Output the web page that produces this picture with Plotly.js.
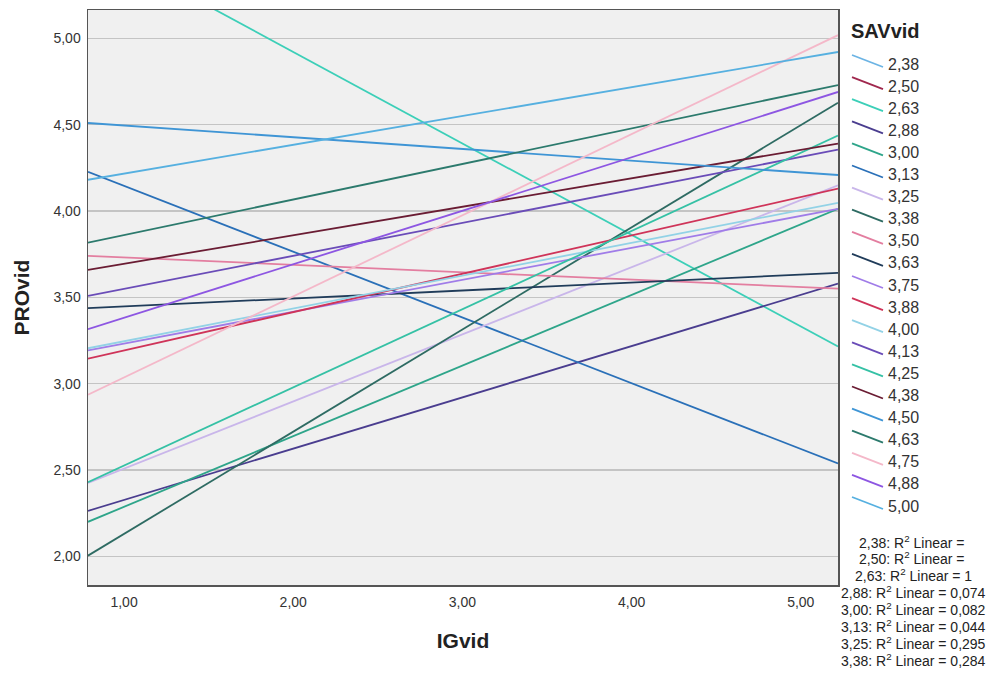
<!DOCTYPE html>
<html>
<head>
<meta charset="utf-8">
<script src="https://cdn.plot.ly/plotly-3.0.1.min.js"></script>
<style>html,body{margin:0;padding:0;background:#fff;}#chart{width:995px;height:676px;}</style>
</head>
<body>
<div id="chart"></div>
<script>
// SAVvid groups (legend order)
const groups = ["2,38","2,50","2,63","2,88","3,00","3,13","3,25","3,38","3,50","3,63","3,75","3,88","4,00","4,13","4,25","4,38","4,50","4,63","4,75","4,88","5,00"];
// Linear fit PROvid = intercept + slope * IGvid (null = no fit line)
const intercepts = [null, null, 5.982, 2.030, 1.878, 4.527, 2.119, 1.538, 3.775, 3.402, 3.047, 2.971, 3.056, 3.359, 2.073, 3.530, 4.564, 3.655, 2.566, 3.072, 4.050];
const slopes     = [null, null, -0.530, 0.297, 0.409, -0.381, 0.389, 0.592, -0.043, 0.046, 0.185, 0.222, 0.190, 0.191, 0.453, 0.165, -0.068, 0.206, 0.470, 0.310, 0.167];
const colors = ["#6cb4e4","#a0284e","#3ccfb8","#4a3d8f","#2ea58a","#2a70b8","#c9b6ea","#2e6b63","#e37ea0","#203c5a","#a07ce8","#cf3459","#92d2e6","#6a4cb8","#35c1a5","#6a1c33","#3f95d5","#2c7a6d","#f4b8c9","#8d56e2","#56b0e0"];
// R² notes shown under the legend
const r2Labels = ["2,38","2,50","2,63","2,88","3,00","3,13","3,25","3,38"];
const r2Values = ["","","1","0,074","0,082","0,044","0,295","0,284"];

const xRange = [0.787, 5.22];
const yRange = [1.834, 5.165];
const xTicks = [1, 2, 3, 4, 5];
const yTicks = [2, 2.5, 3, 3.5, 4, 4.5, 5];

const traces = groups.map((g, i) => {
  const a = intercepts[i], b = slopes[i];
  const xs = a === null ? [null] : xRange.slice();
  const ys = a === null ? [null] : xRange.map(x => a + b * x);
  return {
    type: "scatter", mode: "lines", name: g,
    x: xs, y: ys,
    line: {color: colors[i], width: 1.8},
    hoverinfo: "skip", showlegend: false
  };
});

// Layout geometry (pixels) for the hand-drawn legend
const W = 995, H = 676;
const M = {l: 88, r: 157, t: 10, b: 91};
const plotW = W - M.l - M.r, plotH = H - M.t - M.b;
const px = v => (v - M.l) / plotW;           // pixel x -> paper x
const py = v => (H - M.b - v) / plotH;       // pixel y -> paper y

const font = "Liberation Sans, Arial, sans-serif";
const shapes = [];
const annotations = [];

annotations.push({
  xref: "paper", yref: "paper", x: px(849), y: py(31),
  xanchor: "left", yanchor: "middle", showarrow: false,
  text: "<b>SAVvid</b>", font: {family: font, size: 20, color: "#222222"}
});

const legTop = 64, legStep = 22.1;
groups.forEach((g, i) => {
  const ty = legTop + i * legStep;
  shapes.push({
    type: "line", xref: "paper", yref: "paper",
    x0: px(852), y0: py(ty - 9), x1: px(883), y1: py(ty + 3),
    line: {color: colors[i], width: 1.8}
  });
  annotations.push({
    xref: "paper", yref: "paper", x: px(886), y: py(ty),
    xanchor: "left", yanchor: "middle", showarrow: false,
    text: g, font: {family: font, size: 16, color: "#333333"}
  });
});

const r2Top = 541.5, r2Step = 16.9;
r2Labels.forEach((g, i) => {
  annotations.push({
    xref: "paper", yref: "paper", x: px(913), y: py(r2Top + i * r2Step),
    xanchor: "center", yanchor: "middle", showarrow: false,
    text: g + ": R<sup>2</sup> Linear = " + r2Values[i],
    font: {family: font, size: 14, color: "#222222"}
  });
});

const layout = {
  width: W, height: H,
  margin: M,
  paper_bgcolor: "#ffffff",
  plot_bgcolor: "#f0f0f0",
  separators: ", ",
  font: {family: font, color: "#333333", size: 14},
  showlegend: false,
  xaxis: {
    range: xRange, tickvals: xTicks, tickformat: ".2f",
    showgrid: false, zeroline: false, ticks: "",
    showline: true, linecolor: "#555555", linewidth: 1.5, mirror: true,
    tickfont: {size: 14, color: "#333333"}, ticklabelstandoff: 4,
    title: {text: "IGvid", font: {size: 21, color: "#222222", weight: "bold"}, standoff: 24}
  },
  yaxis: {
    range: yRange, tickvals: yTicks, tickformat: ".2f",
    showgrid: true, gridcolor: "#c4c4c4", gridwidth: 1.3, zeroline: false, ticks: "",
    showline: true, linecolor: "#555555", linewidth: 1.5, mirror: true,
    tickfont: {size: 14, color: "#333333"}, ticklabelstandoff: 3,
    title: {text: "PROvid", font: {size: 21, color: "#222222", weight: "bold"}, standoff: 18}
  },
  shapes: shapes,
  annotations: annotations
};

Plotly.newPlot("chart", traces, layout, {displayModeBar: false, staticPlot: true});
</script>
</body>
</html>
